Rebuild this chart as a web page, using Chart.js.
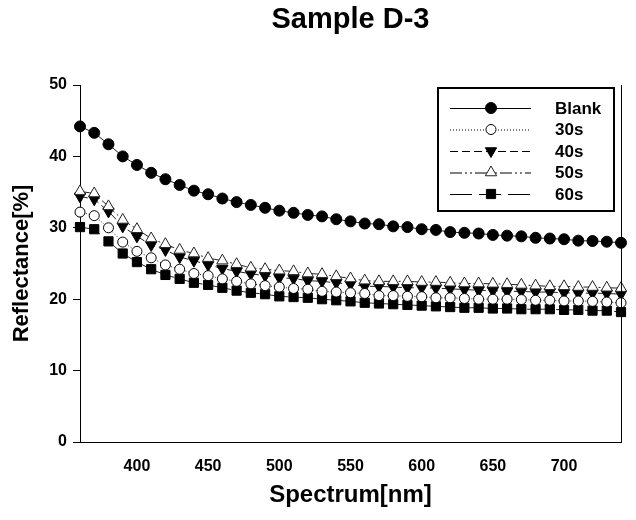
<!DOCTYPE html>
<html><head><meta charset="utf-8">
<script src="https://cdn.jsdelivr.net/npm/chart.js@4/dist/chart.umd.min.js"></script>
<style>html,body{margin:0;padding:0;background:#fff}#wrap{width:636px;height:520px}</style>
</head><body><div id="wrap"><canvas id="c" width="636" height="520"></canvas></div>
<script>
const titleText = 'Sample D-3';
const xTitle = 'Spectrum[nm]';
const yTitle = 'Reflectance[%]';
const seriesNames = ['Blank', '30s', '40s', '50s', '60s'];
const wavelengths = [360,370,380,390,400,410,420,430,440,450,460,470,480,490,500,510,520,530,540,550,560,570,580,590,600,610,620,630,640,650,660,670,680,690,700,710,720,730,740];
const blank = [44.2,43.3,41.7,40.0,38.8,37.7,36.8,36.0,35.2,34.7,34.1,33.6,33.2,32.8,32.4,32.1,31.8,31.6,31.2,30.9,30.6,30.5,30.2,30.1,29.8,29.7,29.4,29.3,29.2,29.0,28.9,28.8,28.6,28.5,28.4,28.2,28.15,28.05,27.9];
const s30 = [32.2,31.7,30.0,28.0,26.7,25.8,24.8,24.2,23.6,23.3,22.85,22.5,22.15,21.9,21.7,21.5,21.4,21.1,21.0,20.9,20.8,20.5,20.5,20.4,20.35,20.2,20.2,20.1,20.0,20.0,20.0,19.95,19.85,19.85,19.75,19.75,19.7,19.6,19.5];
const s40 = [34.4,34.0,32.3,30.2,28.8,27.6,26.9,25.9,25.4,24.8,24.3,23.9,23.55,23.3,23.0,22.9,22.6,22.5,22.3,22.1,21.8,21.8,21.7,21.6,21.6,21.55,21.45,21.35,21.25,21.2,21.1,21.1,21.0,21.0,20.9,20.85,20.85,20.8,20.7];
const s50 = [35.1,34.8,33.0,31.1,29.8,28.5,27.7,26.9,26.4,25.75,25.4,24.9,24.4,24.2,24.0,23.9,23.6,23.5,23.2,22.9,22.6,22.5,22.5,22.5,22.4,22.4,22.3,22.2,22.2,22.15,22.1,22.0,21.9,21.8,21.8,21.7,21.7,21.6,21.55];
const s60 = [30.1,29.8,28.1,26.4,25.2,24.2,23.4,22.85,22.3,22.0,21.6,21.2,20.9,20.7,20.4,20.3,20.2,20.0,19.85,19.7,19.5,19.4,19.3,19.2,19.1,19.0,18.9,18.8,18.8,18.7,18.7,18.6,18.6,18.6,18.5,18.5,18.4,18.4,18.2];
const xTickLabels = [400,450,500,550,600,650,700];
const yTickLabels = [0,10,20,30,40,50];

const FONT = 'Arial, "Liberation Sans", sans-serif';
const pts = vals => wavelengths.map((x, i) => ({x: x, y: vals[i]}));

const styles = [
  {dash: [], pointStyle: 'circle', radius: 5.5, bg: '#000', bc: '#000', rot: 0, order: 0},
  {dash: [1, 2], pointStyle: 'circle', radius: 5, bg: '#fff', bc: '#000', rot: 0, order: 1},
  {dash: [8, 4], pointStyle: 'triangle', radius: 6.5, bg: '#000', bc: '#000', rot: 180, order: 3},
  {dash: [12, 3, 2, 3, 2, 3], pointStyle: 'triangle', radius: 6.5, bg: '#fff', bc: '#222', rot: 0, order: 2},
  {dash: [22, 7], pointStyle: 'rect', radius: 6.5, bg: '#000', bc: '#000', rot: 0, order: 4}
];
const allSeries = [blank, s30, s40, s50, s60];

const datasets = allSeries.map((vals, i) => ({
  label: seriesNames[i],
  data: pts(vals),
  borderColor: '#222',
  borderWidth: 1,
  borderDash: styles[i].dash,
  pointStyle: styles[i].pointStyle,
  pointRadius: styles[i].radius,
  pointBackgroundColor: styles[i].bg,
  pointBorderColor: styles[i].bc,
  pointBorderWidth: 1,
  pointRotation: styles[i].rot,
  order: styles[i].order,
  tension: 0,
  clip: false
}));

function drawMarker(ctx, st, x, y) {
  ctx.save();
  ctx.setLineDash([]);
  ctx.fillStyle = st.bg;
  ctx.strokeStyle = st.bc;
  ctx.lineWidth = 1;
  ctx.beginPath();
  const r = st.radius;
  if (st.pointStyle === 'circle') {
    ctx.arc(x, y, r, 0, Math.PI * 2);
  } else if (st.pointStyle === 'triangle') {
    let a = st.rot * Math.PI / 180;
    for (let k = 0; k < 3; k++) {
      const px = x + Math.sin(a) * r, py = y - Math.cos(a) * r;
      if (k === 0) ctx.moveTo(px, py); else ctx.lineTo(px, py);
      a += 2 * Math.PI / 3;
    }
    ctx.closePath();
  } else {
    const s = Math.SQRT1_2 * r;
    ctx.rect(x - s, y - s, 2 * s, 2 * s);
  }
  ctx.fill();
  ctx.stroke();
  ctx.restore();
}

const decor = {
  id: 'decor',
  afterDraw(chart) {
    const ctx = chart.ctx;
    const a = chart.chartArea;
    ctx.save();
    ctx.fillStyle = '#000';
    ctx.font = 'bold 29px ' + FONT;
    ctx.textAlign = 'center';
    ctx.textBaseline = 'middle';
    ctx.fillText(titleText, (a.left + a.right) / 2, 20);
    ctx.strokeStyle = '#000';
    ctx.lineWidth = 1;
    ctx.beginPath();
    ctx.moveTo(Math.round(a.right) + 0.5, a.top);
    ctx.lineTo(Math.round(a.right) + 0.5, a.bottom);
    ctx.stroke();
    ctx.lineWidth = 2;
    ctx.strokeRect(438, 88, 176, 123);
    const rows = [108, 129.5, 151, 172.5, 194];
    seriesNames.forEach((name, i) => {
      const st = styles[i];
      const y = rows[i];
      ctx.save();
      ctx.strokeStyle = '#000';
      ctx.lineWidth = 1;
      ctx.setLineDash(st.dash.length ? st.dash : []);
      ctx.beginPath();
      ctx.moveTo(450, y + 0.5);
      ctx.lineTo(531, y + 0.5);
      ctx.stroke();
      ctx.restore();
      drawMarker(ctx, st, 491, y);
      ctx.fillStyle = '#000';
      ctx.font = 'bold 17px ' + FONT;
      ctx.textAlign = 'left';
      ctx.textBaseline = 'middle';
      ctx.fillText(name, 555, y + 1);
    });
    ctx.restore();
  }
};

new Chart(document.getElementById('c'), {
  type: 'line',
  data: {datasets: datasets},
  options: {
    responsive: false,
    animation: false,
    devicePixelRatio: 1,
    layout: {padding: {top: 85, right: 15, left: 0, bottom: 0}},
    plugins: {legend: {display: false}, title: {display: false}, tooltip: {enabled: false}},
    scales: {
      x: {
        type: 'linear',
        min: 360, max: 740,
        afterBuildTicks: s => { s.ticks = xTickLabels.map(v => ({value: v})); },
        afterFit: s => { s.height = 78; },
        grid: {display: false, drawTicks: false},
        border: {display: true, color: '#000', width: 1},
        ticks: {color: '#000', font: {family: FONT, size: 16, weight: 'bold'}, padding: 15, maxRotation: 0},
        title: {display: true, text: xTitle, color: '#000', font: {family: FONT, size: 24, weight: 'bold'}, padding: {top: 0, bottom: 10}}
      },
      y: {
        type: 'linear',
        min: 0, max: 50,
        afterBuildTicks: s => { s.ticks = yTickLabels.map(v => ({value: v})); },
        afterFit: s => { s.width = 80; },
        grid: {display: true, drawOnChartArea: false, drawTicks: true, tickLength: 7, color: '#000', lineWidth: 1},
        border: {display: true, color: '#000', width: 1},
        ticks: {color: '#000', font: {family: FONT, size: 16, weight: 'bold'}, padding: 6},
        title: {display: true, text: yTitle, color: '#000', font: {family: FONT, size: 22, weight: 'bold'}, padding: {top: 9, bottom: 0}}
      }
    }
  },
  plugins: [decor]
});
</script></body></html>
